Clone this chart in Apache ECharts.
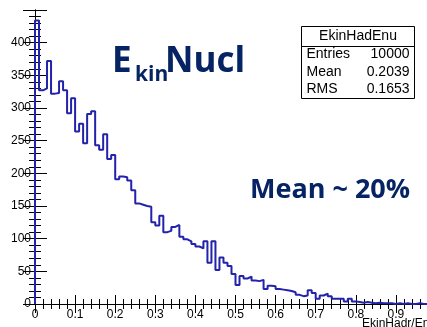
<!DOCTYPE html>
<html>
<head>
<meta charset="utf-8">
<script src="https://cdn.jsdelivr.net/npm/echarts@6/dist/echarts.min.js"></script>
<style>
html,body{margin:0;padding:0;background:#fff;}
#c{width:427px;height:327px;}
</style>
</head>
<body>
<div id="c"></div>
<script>
// ---- data ----
const histName = 'EkinHadEnu';
const xTitle = 'EkinHadr/Enu';
const binLow = 0;
const binWidth = 0.01;
const counts = [
  434, 327, 330, 372, 322, 323, 341, 327, 292, 315,
  264, 276, 246, 291, 295, 243, 236, 260, 222, 228,
  191, 195, 194, 189, 174, 154, 152, 150, 149, 125,
  120, 135, 110, 112, 118, 121, 103,  99,  96,  92,
   88,  85,  96,  63,  96,  52,  71,  63,  58,  46,
   29,  43,  39,  42,  36,  35,  37,  23,  28,  27,
   23,  22,  21,  20,  18,  14,  12,  13,  21,  17,
    8,  13,  16,  12,   8,   8,   8,   4,   8,   4,
    3,   2,   3,   2,   1,   2,   1,   1,   1,   0,
    1,   0,   1,   0,   0,   1,   0,   0,   0,   0
];
const statLabels = ['Entries', 'Mean', 'RMS'];
const statValues = ['10000', '0.2039', '0.1653'];
const xMin = 0, xMax = 1, xStep = 0.1;
const yMin = 0, yMax = 450, yStep = 50;

// ---- build step outline ----
const pts = [[binLow, 0]];
for (let k = 0; k < counts.length; k++) pts.push([binLow + k * binWidth, counts[k]]);
const binHigh = binLow + counts.length * binWidth;
pts.push([binHigh, counts[counts.length - 1]]);
pts.push([binHigh, 0]);

const navy = '#062463';
const lab = {fontSize: 12, color: '#000', fontFamily: '"Liberation Sans", Arial, sans-serif'};
const axLine = {show: true, lineStyle: {color: '#000', width: 1}};

const chart = echarts.init(document.getElementById('c'), null, {renderer: 'canvas'});
const gridL = 35, gridT = 10, gridW = 401, gridH = 294;

const statFont = '14px "Liberation Sans", Arial, sans-serif';
const bx = 301.5, by = 26.5, bw = 113, bh = 72;
const statEls = [
  {type: 'rect', shape: {x: bx, y: by, width: bw, height: bh}, style: {fill: '#fff', stroke: '#000', lineWidth: 1}},
  {type: 'line', shape: {x1: bx, y1: by + 20, x2: bx + bw, y2: by + 20}, style: {stroke: '#000', lineWidth: 1}},
  {type: 'text', x: bx + bw / 2, y: by + 10, style: {text: histName, font: statFont, fill: '#000', align: 'center', verticalAlign: 'middle'}}
];
statLabels.forEach((s, i) => {
  statEls.push({type: 'text', x: bx + 5, y: by + 28 + i * 17.5, style: {text: s, font: statFont, fill: '#000', align: 'left', verticalAlign: 'middle'}});
  statEls.push({type: 'text', x: bx + bw - 5, y: by + 28 + i * 17.5, style: {text: statValues[i], font: statFont, fill: '#000', align: 'right', verticalAlign: 'middle'}});
});

const titleFont = '700 35px "Open Sans", sans-serif';
const subFont = '700 21px "Open Sans", sans-serif';

function xAx(pos, showLabel) {
  return {
    type: 'value', min: xMin, max: xMax, interval: xStep, position: pos,
    axisLine: axLine,
    axisTick: {show: true, inside: true, length: 9, lineStyle: {color: '#000'}},
    minorTick: {show: true, splitNumber: 5, length: 5, lineStyle: {color: '#000'}},
    splitLine: {show: false},
    axisLabel: showLabel
      ? Object.assign({margin: 5, showMaxLabel: false, formatter: v => (v === 0 ? '0' : v.toFixed(1))}, lab)
      : {show: false}
  };
}
function yAx(pos, showLabel) {
  return {
    type: 'value', min: yMin, max: yMax, interval: yStep, position: pos,
    axisLine: axLine,
    axisTick: {show: true, inside: true, length: 12, lineStyle: {color: '#000'}},
    minorTick: {show: true, splitNumber: 5, length: 6, lineStyle: {color: '#000'}},
    splitLine: {show: false},
    axisLabel: showLabel ? Object.assign({margin: 4, showMaxLabel: false}, lab) : {show: false}
  };
}

chart.setOption({
  animation: false,
  backgroundColor: '#fff',
  grid: {left: gridL, top: gridT, width: gridW, height: gridH, containLabel: false, outerBoundsMode: 'none'},
  xAxis: [xAx('bottom', true), xAx('top', false)],
  yAxis: [yAx('left', true), yAx('right', false)],
  series: [{
    type: 'line', xAxisIndex: 0, yAxisIndex: 0, step: 'end', data: pts,
    showSymbol: false, symbol: 'none',
    lineStyle: {color: '#2222aa', width: 2},
    z: 3
  }],
  graphic: [
    {type: 'text', x: 112, y: 45, style: {text: 'E', font: titleFont, fill: navy, verticalAlign: 'top'}, z: 10},
    {type: 'text', x: 135, y: 65, style: {text: 'kin', font: subFont, fill: navy, verticalAlign: 'top'}, z: 10},
    {type: 'text', x: 165, y: 45, style: {text: 'Nucl', font: titleFont, fill: navy, verticalAlign: 'top'}, z: 10},
    {type: 'text', x: 250, y: 177, style: {text: 'Mean ~ 20%', font: '700 27px "Open Sans", sans-serif', fill: navy, verticalAlign: 'top'}, z: 10},
    {type: 'text', x: 436, y: 318, style: {text: xTitle, font: '12px "Liberation Sans", Arial, sans-serif', fill: '#000', align: 'right', verticalAlign: 'top'}, z: 10},
    {type: 'group', z: 20, children: statEls}
  ]
});
</script>
</body>
</html>
